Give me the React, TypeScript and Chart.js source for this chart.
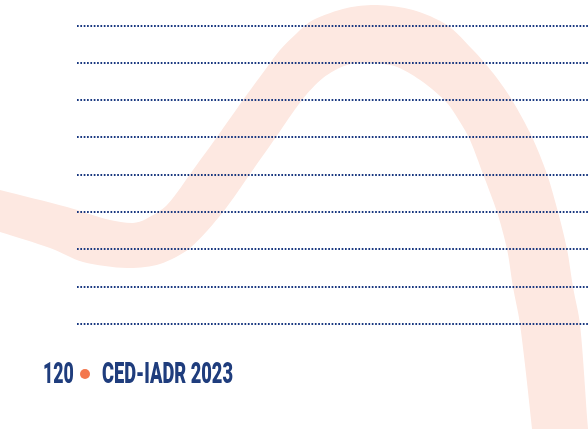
import React, { useEffect, useRef } from "react";
import { Chart, registerables } from "chart.js";

Chart.register(...registerables);

// Decorative ribbon: outer (upper / right) edge, traced left -> right
const BAND_OUTER_X = [-30, 0, 67, 110, 133, 146, 167, 193, 217, 243, 265, 280, 297, 313, 347, 377, 413, 447, 473, 493, 512, 532, 547, 558, 567, 573, 580, 588, 591];
const BAND_OUTER_Y = [182, 190, 207, 220, 223, 219, 205, 170, 137, 100, 70, 50, 33, 20, 8, 5, 10, 25, 50, 73, 100, 137, 174, 212, 249, 287, 324, 429, 460];
// inner (lower / left) edge, traced right -> left
const BAND_INNER_X = [534, 532, 520, 513, 507, 497, 483, 470, 460, 447, 423, 397, 373, 347, 323, 302, 276, 250, 223, 190, 160, 127, 83, 50, 0, -30];
const BAND_INNER_Y = [460, 429, 324, 287, 249, 212, 174, 140, 122, 103, 82, 67, 63, 65, 78, 100, 137, 174, 212, 248, 264, 268, 262, 248, 232, 223];

// Dotted writing rules
const RULE_Y = [26, 63, 100, 137, 175, 212, 249, 287, 324];
const RULE_X = [77, 588];

const PAGE_NUMBER = "120";
const FOOTER_TEXT = "CED-IADR 2023";

const NAVY = "#1f3d7d";
const RULE_COLOR = "#193880";
const PINK = "#fde8e1";
const ORANGE = "#f3774d";

export default function App() {
  const canvasRef = useRef<HTMLCanvasElement | null>(null);

  useEffect(() => {
    const canvas = canvasRef.current;
    if (!canvas) return;

    const bandPoints = [
      ...BAND_OUTER_X.map((x, i) => ({ x, y: BAND_OUTER_Y[i] })),
      ...BAND_INNER_X.map((x, i) => ({ x, y: BAND_INNER_Y[i] })),
    ];

    const ruleSets = RULE_Y.map((y) => ({
      data: RULE_X.map((x) => ({ x, y })),
      showLine: true,
      borderColor: RULE_COLOR,
      borderWidth: 1.8,
      borderDash: [1.7, 1.65],
      pointRadius: 0,
      fill: false,
      tension: 0,
    }));

    const chart = new Chart(canvas, {
      type: "scatter",
      data: {
        datasets: [
          ...ruleSets,
          {
            data: bandPoints,
            showLine: true,
            borderColor: "rgba(0,0,0,0)",
            borderWidth: 0,
            backgroundColor: PINK,
            fill: "shape",
            tension: 0.3,
            capBezierPoints: false,
            pointRadius: 0,
          } as any,
        ],
      },
      options: {
        responsive: false,
        animation: false,
        events: [],
        layout: { padding: 0 },
        scales: {
          x: { type: "linear", min: 0, max: 588, display: false },
          y: { type: "linear", min: 0, max: 429, reverse: true, display: false },
        },
        plugins: {
          legend: { display: false },
          tooltip: { enabled: false },
        },
      },
    });

    return () => chart.destroy();
  }, []);

  const textStyle: React.CSSProperties = {
    position: "absolute",
    top: 0,
    fontFamily: "Roboto, 'DejaVu Sans', sans-serif",
    fontWeight: 900,
    fontSize: 29,
    lineHeight: "29px",
    color: NAVY,
    whiteSpace: "nowrap",
    transformOrigin: "0 0",
    transform: "scaleX(0.61)",
  };

  return (
    <div
      style={{
        position: "fixed",
        left: 0,
        top: 0,
        width: 588,
        height: 429,
        background: "#ffffff",
        overflow: "hidden",
      }}
    >
      <canvas ref={canvasRef} width={588} height={429} style={{ position: "absolute", left: 0, top: 0 }} />
      <div style={{ position: "absolute", left: 0, top: 359, width: 588, height: 30 }}>
        <span style={{ ...textStyle, left: 43 }}>{PAGE_NUMBER}</span>
        <span
          style={{
            position: "absolute",
            left: 80,
            top: 10,
            width: 10,
            height: 10,
            borderRadius: "50%",
            background: ORANGE,
          }}
        />
        <span style={{ ...textStyle, left: 102, transform: "scaleX(0.63)" }}>{FOOTER_TEXT}</span>
      </div>
    </div>
  );
}
